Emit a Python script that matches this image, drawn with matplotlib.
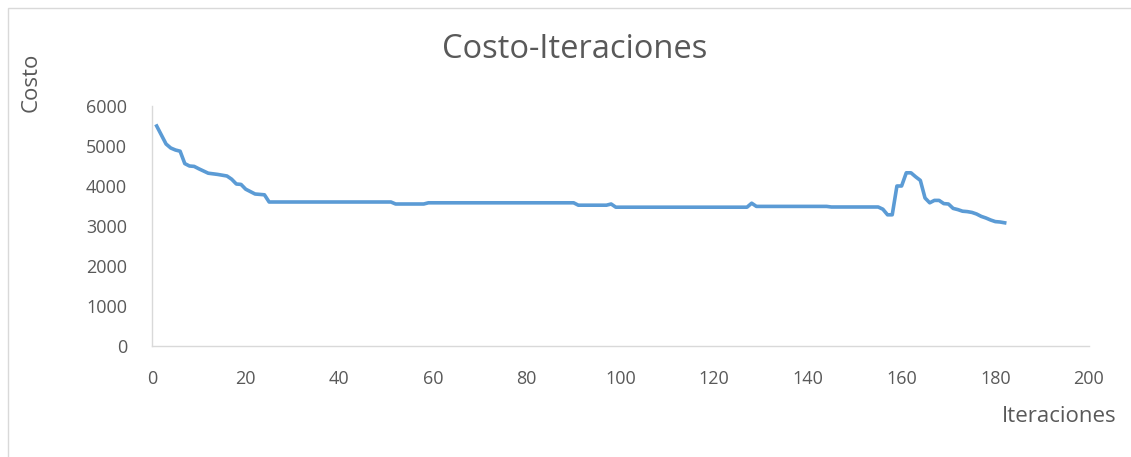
import matplotlib
matplotlib.use("Agg")
import matplotlib.pyplot as plt
from matplotlib.patches import Rectangle

iteraciones = [1, 3, 4, 5, 6, 7, 8, 9, 10, 12, 14, 16, 17, 18, 19, 20, 21, 22, 24, 25,
               51, 52, 58, 59, 90, 91, 97, 98, 99, 127, 128, 129, 144, 145, 155, 156,
               157, 158, 159, 160, 161, 162, 163, 164, 165, 166, 167, 168, 169, 170,
               171, 172, 173, 174, 175, 176, 177, 178, 179, 180, 181, 182]
costo = [5500, 5050, 4950, 4900, 4870, 4560, 4500, 4490, 4430, 4320, 4290, 4250, 4170,
         4050, 4040, 3920, 3860, 3800, 3780, 3600,
         3600, 3550, 3550, 3580, 3580, 3520, 3520, 3550, 3470, 3470, 3570, 3490, 3490,
         3475, 3475, 3420, 3280, 3280, 4000, 4000, 4330, 4330, 4230, 4140, 3700, 3580,
         3640, 3640, 3560, 3550, 3440, 3410, 3370, 3360, 3340, 3300, 3240, 3200, 3150,
         3110, 3100, 3080]
x_ticks = [0, 20, 40, 60, 80, 100, 120, 140, 160, 180, 200]
y_ticks = [0, 1000, 2000, 3000, 4000, 5000, 6000]

plt.rcParams['font.family'] = ['Open Sans', 'DejaVu Sans']
W, H = 1131, 457
fig = plt.figure(figsize=(W / 100, H / 100), dpi=100)
fig.patches.append(Rectangle((8 / W, -0.1), 1.2, (H - 8) / H + 0.1, transform=fig.transFigure,
                             fill=False, edgecolor='#D9D9D9', linewidth=1))
ax = fig.add_axes([152 / W, 1 - 346 / H, (1089 - 152) / W, (346 - 106) / H])
ax.plot(iteraciones, costo, color='#5B9BD5', linewidth=2.6, solid_joinstyle='round')
ax.set_xlim(0, 200)
ax.set_ylim(0, 6000)
ax.set_xticks(x_ticks)
ax.set_yticks(y_ticks)
for s in ['top', 'right']:
    ax.spines[s].set_visible(False)
for s in ['left', 'bottom']:
    ax.spines[s].set_color('#D9D9D9')
    ax.spines[s].set_linewidth(1)
ax.tick_params(length=0, labelsize=13, labelcolor='#595959')
ax.tick_params(axis='y', pad=18)
ax.tick_params(axis='x', pad=17)
fig.text(575 / W, 1 - 50 / H, 'Costo-Iteraciones', ha='center', va='center',
         fontsize=23.5, color='#595959')
fig.text(31 / W, 1 - 82 / H, 'Costo', ha='center', va='center', rotation=90,
         fontsize=16, color='#595959')
fig.text(1117 / W, 1 - 416 / H, 'Iteraciones', ha='right', va='center',
         fontsize=16, color='#595959')
fig.savefig('out.png', dpi=100)
